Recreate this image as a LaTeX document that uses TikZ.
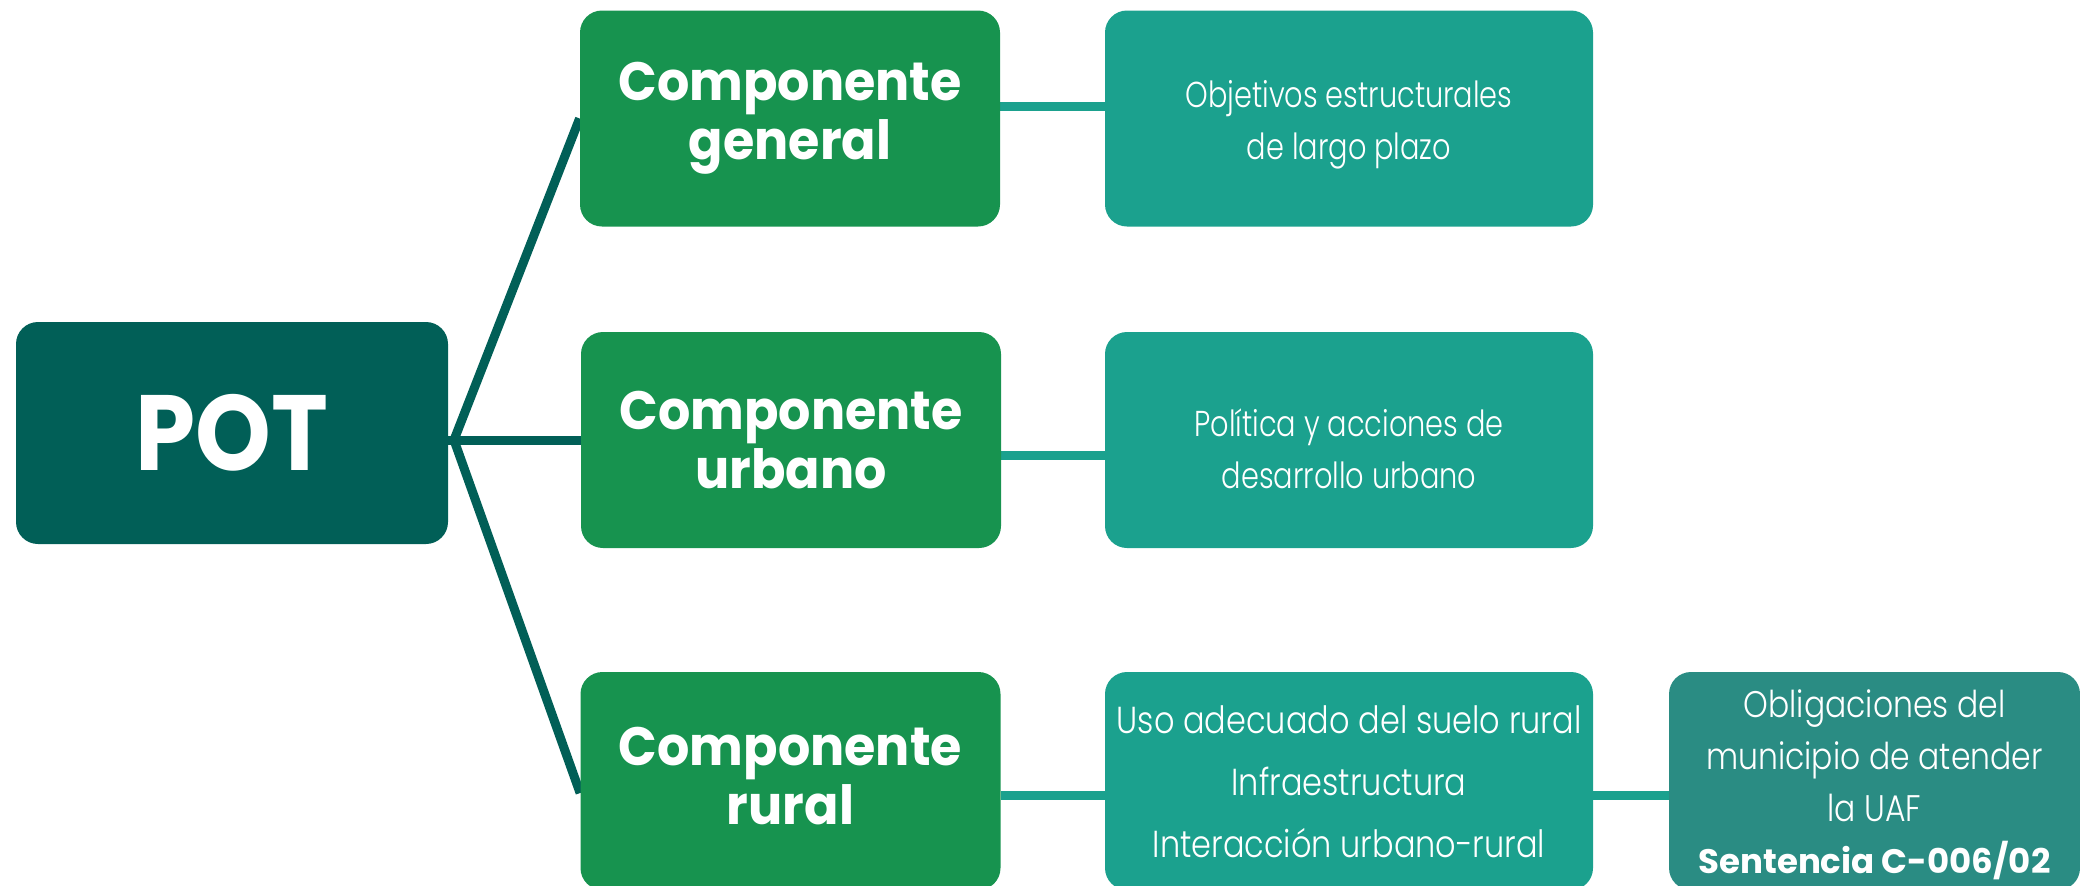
\documentclass[tikz,border=0pt]{standalone}
\usepackage{fontspec}
\setmainfont{Poppins}
\newfontfamily\compf[FakeStretch=0.94]{Poppins Bold}
\newfontfamily\potf[FakeStretch=0.9]{Poppins Bold}
\newfontfamily\lightf[FakeStretch=0.8]{Poppins Light}
\newfontfamily\lightwf[FakeStretch=0.85]{Poppins Light}
\newfontfamily\sentf{Poppins Bold}
\usetikzlibrary{backgrounds}
\definecolor{potc}{HTML}{015F57}
\definecolor{compc}{HTML}{17934F}
\definecolor{descc}{HTML}{1BA18E}
\definecolor{oblc}{HTML}{2A8C83}
\tikzset{
  box/.style={rounded corners=11pt, inner sep=0pt, text=white, align=center, anchor=center},
  txt/.style={inner sep=0pt, text=white, align=center, anchor=center},
  potbox/.style={box, fill=potc, minimum width=216pt, minimum height=111pt, font=\potf\fontsize{53.5}{56}\selectfont},
  compbox/.style={box, fill=compc, minimum width=210pt, minimum height=108pt, font=\compf\fontsize{27}{29.5}\selectfont},
  descbox/.style={box, fill=descc, minimum width=244pt, minimum height=108pt},
  desctxt/.style={txt, font=\lightf\fontsize{18}{26}\selectfont},
  oblbox/.style={box, fill=oblc, minimum width=205.5pt, minimum height=109pt},
  lconn/.style={draw=potc, line width=4.5pt},
  rconn/.style={draw=descc, line width=4.5pt}
}
\begin{document}
\begin{tikzpicture}[x=0.5pt,y=-0.5pt]
\clip (0,0) rectangle (2080,885);
\node[potbox] (pot) at (232,433) {POT};
\node[compbox] (gen) at (790,118.5) {Componente\\general};
\node[compbox] (urb) at (791,440) {Componente\\urbano};
\node[compbox, minimum height=109pt] (rur) at (790.5,781) {};
\node[txt, font=\compf\fontsize{27}{29.5}\selectfont] (rurt) at (790.5,776) {Componente\\rural};
\node[descbox] (obj) at (1349,118.5) {};
\node[desctxt] (objt) at (1349,125) {Objetivos estructurales\\de largo plazo};
\node[descbox] (pol) at (1349,440) {};
\node[desctxt] (polt) at (1349,449) {Política y acciones de\\desarrollo urbano};
\node[descbox, minimum height=109pt] (uso) at (1349,781) {};
\node[txt, font=\lightwf\fontsize{18.8}{31}\selectfont] (usot) at (1349,782) {Uso adecuado del suelo rural\\Infraestructura\\Interacción urbano-rural};
\node[oblbox] (obl) at (1874.5,781) {};
\node[txt, font=\lightwf\fontsize{18.5}{26}\selectfont] (oblt) at (1874.5,785) {Obligaciones del\\municipio de atender\\la UAF\\{\sentf\fontsize{17}{26}\selectfont Sentencia C-006/02}};
\coordinate (j) at (454,440);
\begin{scope}[on background layer]
\draw[lconn] (pot.east |- j) -- (urb.west |- j);
\draw[lconn] (j) -- (gen.west);
\draw[lconn] (j) -- ([yshift=-6pt]rur.west);
\draw[rconn] ([yshift=6.25pt]gen.east) -- ([yshift=6.25pt]obj.west);
\draw[rconn] ([yshift=-7.5pt]urb.east) -- ([yshift=-7.5pt]pol.west);
\draw[rconn] ([yshift=-7pt]rur.east) -- ([yshift=-7pt]uso.west);
\draw[rconn] ([yshift=-7pt]uso.east) -- ([yshift=-7pt]obl.west);
\end{scope}
\end{tikzpicture}
\end{document}
